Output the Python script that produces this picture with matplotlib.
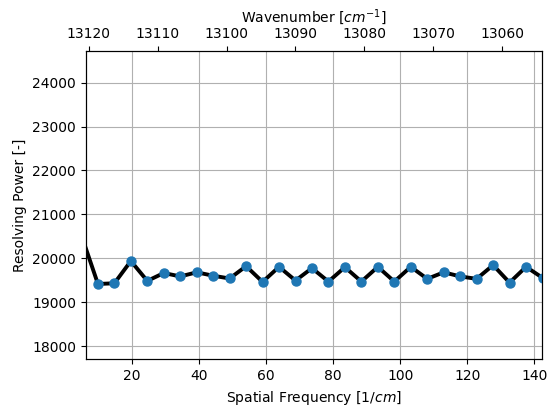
import matplotlib
matplotlib.use('Agg')
import matplotlib.pyplot as plt

# Spatial frequency [1/cm] and resolving power
spatial_freq = [5.05, 9.96, 14.86, 19.77, 24.67, 29.58, 34.48, 39.39, 44.29, 49.20,
                54.10, 59.01, 63.91, 68.82, 73.72, 78.63, 83.53, 88.44, 93.34, 98.25,
                103.15, 108.06, 112.96, 117.87, 122.77, 127.68, 132.58, 137.49, 142.39]
resolving_power = [20520, 19414, 19430, 19937, 19484, 19664, 19586, 19680, 19602, 19539,
                   19820, 19461, 19805, 19492, 19775, 19469, 19797, 19469, 19805, 19469,
                   19805, 19531, 19680, 19586, 19531, 19844, 19445, 19805, 19555]

x_range = (6.37, 142.1)
wavenumber_range = (13120.43, 13054.28)
y_range = (17700, 24720)

fig = plt.figure(figsize=(5.47, 4.05), dpi=100)
ax = fig.add_axes([0.157, 0.113, 0.833, 0.761])

ax.plot(spatial_freq, resolving_power, color='black', linewidth=2.8, zorder=2)
ax.plot(spatial_freq, resolving_power, 'o', color='#1f77b4', markersize=6.5, zorder=3)

ax.set_xlim(*x_range)
ax.set_ylim(*y_range)
ax.set_xticks([20, 40, 60, 80, 100, 120, 140])
ax.set_yticks([18000, 19000, 20000, 21000, 22000, 23000, 24000])
ax.grid(True, color='#b0b0b0', linewidth=0.8)
ax.set_xlabel('Spatial Frequency [$1/cm$]')
ax.set_ylabel('Resolving Power [-]')

# Top axis: wavenumber
ax2 = ax.twiny()
ax2.set_xlim(*wavenumber_range)
ax2.set_xticks([13120, 13110, 13100, 13090, 13080, 13070, 13060])
ax2.set_xlabel('Wavenumber [$cm^{-1}$]')

fig.savefig('out.png', dpi=100)
